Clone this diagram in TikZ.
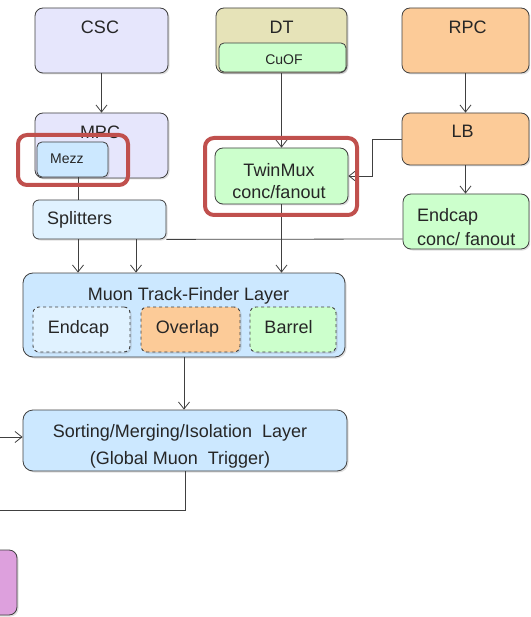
\documentclass[tikz,border=0pt]{standalone}
\usepackage{fontspec}
\setmainfont{Liberation Sans}
\usepackage{xcolor}
\usetikzlibrary{arrows.meta, shadows}

\definecolor{edgegray}{HTML}{404040}
\definecolor{inkgray}{HTML}{262626}
\definecolor{cscfill}{HTML}{E6E6FC}
\definecolor{dtfill}{HTML}{E6E3B8}
\definecolor{rpcfill}{HTML}{FCCB98}
\definecolor{gfill}{HTML}{CCFFCC}
\definecolor{bfill}{HTML}{CCE8FF}
\definecolor{pbfill}{HTML}{E0F2FF}
\definecolor{ugmtfill}{HTML}{DDA0DD}
\definecolor{hired}{HTML}{C0504D}

\begin{document}
\begin{tikzpicture}[x=1pt, y=-1pt,
    blk/.style={draw=edgegray, line width=0.8pt, rounded corners=8pt, inner sep=0pt,
        drop shadow={shadow xshift=1.5pt, shadow yshift=-1.5pt, opacity=0.25}},
    sub/.style={blk, dashed, line width=0.9pt, rounded corners=6pt},
    txt/.style={inner sep=0pt, text=inkgray, font=\fontsize{18}{22}\selectfont},
    smalltxt/.style={txt, font=\fontsize{14}{17}\selectfont},
    hilite/.style={draw=hired, line width=4pt, rounded corners=9pt, inner sep=0pt},
    conn/.style={draw=edgegray, line width=0.8pt},
    line/.style={conn, -{Straight Barb[length=7pt, width=11pt]}}
]
    \useasboundingbox (0,0) rectangle (530,617);
    \clip (0,0) rectangle (530,617);

    % front ends
    \node[blk, fill=cscfill, minimum width=133, minimum height=65] (csc) at (101.5,40.5) {};
    \node[txt, anchor=base] (csctext) at (100,34) {CSC};
    \node[blk, fill=dtfill, minimum width=131, minimum height=65] (dt) at (281.5,40.5) {};
    \node[txt, anchor=base] (dttext) at (281.5,34) {DT};
    \node[blk, fill=gfill, rounded corners=5pt, minimum width=127, minimum height=29] (cuof) at (282.5,57.5) {};
    \node[smalltxt, anchor=base] (cuoftext) at (284,65) {CuOF};
    \node[blk, fill=rpcfill, minimum width=127, minimum height=65] (rpc) at (465.5,40.5) {};
    \node[txt, anchor=base] (rpctext) at (467.5,34) {RPC};

    \node[blk, fill=cscfill, minimum width=133, minimum height=65] (mpc) at (101.5,145.5) {};
    \node[txt, anchor=base] (mpctext) at (100,139) {MPC};
    \node[blk, fill=bfill, rounded corners=5pt, minimum width=71, minimum height=35] (mezz) at (72.5,159.5) {};
    \node[smalltxt, anchor=base west] (mezztext) at (50,164) {Mezz};
    \node[blk, fill=gfill, minimum width=133, minimum height=56] (twinmux) at (281.5,176) {};
    \node[txt, align=center] (twinmuxtext) at (279,181) {TwinMux\\conc/fanout};
    \node[blk, fill=rpcfill, minimum width=127, minimum height=52] (lb) at (465.5,139) {};
    \node[txt, anchor=base] (lbtext) at (462.5,138) {LB};

    \node[blk, fill=pbfill, rounded corners=6pt, minimum width=133, minimum height=39] (splitters) at (99.5,219.5) {};
    \node[txt, anchor=base west] (splitterstext) at (47,225) {Splitters};
    \node[blk, fill=gfill, minimum width=126, minimum height=55] (ecf) at (466,221.5) {};
    \node[txt, font=\fontsize{18}{24}\selectfont, align=left, anchor=west] (ecftext) at (417,227.5) {Endcap\\conc/ fanout};

    % track finders
    \node[blk, fill=bfill, rounded corners=10pt, minimum width=322, minimum height=84] (mtf) at (184,315) {};
    \node[txt, anchor=base] (mtftext) at (188.5,300) {Muon\ Track-Finder Layer};
    \node[sub, fill=pbfill, minimum width=97, minimum height=45] (emtf) at (81.5,329.5) {};
    \node[txt, anchor=base] (emtftext) at (78.5,333) {Endcap};
    \node[sub, fill=rpcfill, minimum width=99, minimum height=45] (omtf) at (190.5,329.5) {};
    \node[txt, anchor=base] (omtftext) at (187.5,333) {Overlap};
    \node[sub, fill=gfill, minimum width=86, minimum height=45] (bmtf) at (293,329.5) {};
    \node[txt, anchor=base] (bmtftext) at (288.5,333) {Barrel};

    \node[blk, fill=bfill, rounded corners=10pt, minimum width=324, minimum height=61] (gmt) at (185,440.5) {};
    \node[txt, font=\fontsize{18}{27}\selectfont, align=center] (gmttext) at (180,446) {Sorting/Merging/Isolation\ \ Layer\\(Global Muon\ \ Trigger)};

    \node[blk, fill=ugmtfill, minimum width=57, minimum height=65] (ugt) at (-11.5,582.5) {};

    \coordinate (gmtin) at (0,437);
    \coordinate (gmtout) at (0,510);

    % connections
    \draw[line] (csc) -- (mpc);
    \draw[line] (dt.south) -- (twinmux.north);
    \draw[line] (rpc) -- (lb);
    \draw[line] (lb.south) -- (lb.south |- ecf.north);
    \draw[line] (lb.west) -- ++(-29,0) |- (twinmux.east);
    \draw[conn] ([xshift=5.5pt]mezz.south) -- ([xshift=5.5pt]mezz.south |- splitters.north);
    \draw[line] ([xshift=-21.5pt]splitters.south) -- ([xshift=-21.5pt]splitters.south |- mtf.north);
    \draw[line] ([xshift=36.5pt]splitters.south) -- ([xshift=36.5pt]splitters.south |- mtf.north);
    \draw[conn] ([yshift=-17.5pt]ecf.west) -- (splitters.south east);
    \draw[line] (twinmux.south) -- (twinmux.south |- mtf.north);
    \draw[line] (mtf.south) -- (mtf.south |- gmt.north);
    \draw[line] (gmtin) -- (gmtin -| gmt.west);
    \draw[conn] (gmt.south) |- (gmtout);

    \node[hilite, minimum width=110, minimum height=50] (mezzhi) at (73,160) {};
    \node[hilite, minimum width=152, minimum height=77] (twinmuxhi) at (281,176.5) {};
\end{tikzpicture}
\end{document}
